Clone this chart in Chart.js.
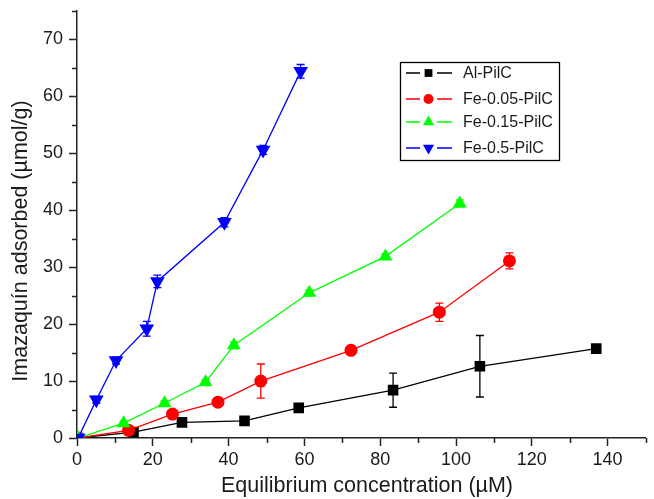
<!DOCTYPE html>
<html>
<head>
<meta charset="utf-8">
<script src="https://cdn.jsdelivr.net/npm/chart.js@4.4.0/dist/chart.umd.min.js"></script>
<style>
  html, body { margin: 0; padding: 0; background: #fff; }
</style>
</head>
<body>
<canvas id="chart" width="654" height="499"></canvas>
<script>
// series data
const seriesNames = ['Al-PilC', 'Fe-0.05-PilC', 'Fe-0.15-PilC', 'Fe-0.5-PilC'];
const seriesColors = ['#000000', '#ff0000', '#00ff00', '#0000ff'];
const seriesMarkers = ['rect', 'circle', 'triangle', 'triangle'];
const seriesRotation = [0, 0, 0, 180];
const seriesRadius = [7.5, 6.5, 8, 8.5];

const alX = [0.3, 14.9, 27.7, 44.2, 58.5, 83.4, 106.3, 137.0];
const alY = [0, 1.05, 2.75, 3.0, 5.3, 8.4, 12.6, 15.7];
const alErr = [0, 0.3, 0.3, 0.3, 0.4, 3.0, 5.4, 0.4];

const fe005X = [0.3, 13.6, 25.2, 37.2, 48.5, 72.3, 95.6, 114.1];
const fe005Y = [0, 1.35, 4.2, 6.3, 10.0, 15.4, 22.1, 31.1];
const fe005Err = [0, 0.3, 0.4, 0.4, 3.0, 0.7, 1.6, 1.4];

const fe015X = [0.3, 12.3, 23.1, 33.9, 41.4, 61.3, 81.4, 101.0];
const fe015Y = [0, 2.6, 6.1, 9.8, 16.3, 25.5, 31.9, 41.2];
const fe015Err = [0, 0.4, 0.4, 0.5, 0.6, 0.5, 0.5, 0.6];

const fe05X = [0.3, 5.1, 10.3, 18.4, 21.2, 38.9, 49.1, 59.0];
const fe05Y = [0, 6.7, 13.6, 19.2, 27.5, 37.9, 50.6, 64.4];
const fe05Err = [0, 0.6, 0.6, 1.3, 1.1, 0.8, 0.8, 1.2];

const xTicks = [0, 20, 40, 60, 80, 100, 120, 140];
const xMinorTicks = [10, 30, 50, 70, 90, 110, 130, 150];
const yTicks = [0, 10, 20, 30, 40, 50, 60, 70];
const yMinorTicks = [5, 15, 25, 35, 45, 55, 65, 75];

const xTitle = 'Equilibrium concentration (µM)';
const yTitle = 'Imazaquín adsorbed (µmol/g)';

const FONT = "'Liberation Sans', Arial, sans-serif";
const AXIS_COLOR = '#222222';
const TEXT_COLOR = '#1a1a1a';

function points(xs, ys) {
    return xs.map((x, i) => ({ x: x, y: ys[i] }));
}

const allX = [alX, fe005X, fe015X, fe05X];
const allY = [alY, fe005Y, fe015Y, fe05Y];
const allErr = [alErr, fe005Err, fe015Err, fe05Err];

const datasets = seriesNames.map((name, i) => ({
    label: name,
    data: points(allX[i], allY[i]),
    errors: allErr[i],
    order: seriesNames.length - i, // blue ends up on top
    borderColor: seriesColors[i],
    backgroundColor: seriesColors[i],
    borderWidth: 1.3,
    pointStyle: seriesMarkers[i],
    pointRotation: seriesRotation[i],
    pointRadius: seriesRadius[i],
    pointBorderWidth: 0,
    pointHoverRadius: seriesRadius[i],
    tension: 0,
    fill: false
}));

// error bars drawn under the markers
const errorBars = {
    id: 'errorBars',
    beforeDatasetsDraw(chart) {
        const ctx = chart.ctx;
        const yScale = chart.scales.y;
        ctx.save();
        chart.data.datasets.forEach((ds, i) => {
            const meta = chart.getDatasetMeta(i);
            ctx.strokeStyle = ds.borderColor;
            ctx.lineWidth = 1.3;
            meta.data.forEach((pt, j) => {
                const err = ds.errors[j];
                if (!err) return;
                const v = ds.data[j].y;
                const top = yScale.getPixelForValue(v + err);
                const bot = yScale.getPixelForValue(v - err);
                ctx.beginPath();
                ctx.moveTo(pt.x, top);
                ctx.lineTo(pt.x, bot);
                ctx.moveTo(pt.x - 4, top);
                ctx.lineTo(pt.x + 4, top);
                ctx.moveTo(pt.x - 4, bot);
                ctx.lineTo(pt.x + 4, bot);
                ctx.stroke();
            });
        });
        ctx.restore();
    }
};

// short minor ticks on both axes, plus the axis titles
const axisExtras = {
    id: 'axisExtras',
    afterDraw(chart) {
        const ctx = chart.ctx;
        const xs = chart.scales.x, ys = chart.scales.y;
        const area = chart.chartArea;
        ctx.save();
        ctx.strokeStyle = AXIS_COLOR;
        ctx.lineWidth = 1.5;
        ctx.beginPath();
        xMinorTicks.forEach(v => {
            const px = Math.round(xs.getPixelForValue(v)) + 0.5;
            ctx.moveTo(px, area.bottom);
            ctx.lineTo(px, area.bottom + 5);
        });
        yMinorTicks.forEach(v => {
            const py = Math.round(ys.getPixelForValue(v)) + 0.5;
            ctx.moveTo(area.left, py);
            ctx.lineTo(area.left - 5, py);
        });
        ctx.stroke();

        ctx.fillStyle = TEXT_COLOR;
        ctx.font = '21.5px ' + FONT;
        ctx.textAlign = 'center';
        ctx.textBaseline = 'middle';
        ctx.fillText(xTitle, 367, 486);

        ctx.translate(21, 241);
        ctx.rotate(-Math.PI / 2);
        ctx.fillText(yTitle, 0, 0);
        ctx.restore();
    }
};

// boxed legend with line-marker-line samples
const boxLegend = {
    id: 'boxLegend',
    afterDraw(chart) {
        const ctx = chart.ctx;
        const box = { x: 400.5, y: 62.5, w: 159, h: 98 };
        const rowY = [73, 99, 122, 148];
        const legendRadius = [5.5, 5, 6.5, 6.5];
        ctx.save();
        ctx.fillStyle = '#ffffff';
        ctx.fillRect(box.x, box.y, box.w, box.h);
        ctx.strokeStyle = '#000000';
        ctx.lineWidth = 1.3;
        ctx.strokeRect(box.x, box.y, box.w, box.h);
        ctx.font = '16px ' + FONT;
        ctx.textBaseline = 'middle';
        seriesNames.forEach((name, i) => {
            const y = rowY[i];
            ctx.strokeStyle = seriesColors[i];
            ctx.fillStyle = seriesColors[i];
            ctx.lineWidth = 1.3;
            ctx.beginPath();
            ctx.moveTo(406, y);
            ctx.lineTo(420, y);
            ctx.moveTo(437, y);
            ctx.lineTo(452, y);
            ctx.stroke();
            Chart.helpers.drawPoint(ctx, {
                pointStyle: seriesMarkers[i],
                rotation: seriesRotation[i],
                radius: legendRadius[i],
                borderWidth: 0
            }, 428.5, y);
            ctx.fillStyle = TEXT_COLOR;
            ctx.fillText(name, 463, y + 1);
        });
        ctx.restore();
    }
};

const ctx = document.getElementById('chart').getContext('2d');
new Chart(ctx, {
    type: 'line',
    data: { datasets: datasets },
    options: {
        responsive: false,
        animation: false,
        layout: { padding: { top: 11, right: 1, left: 0, bottom: 0 } },
        plugins: {
            legend: { display: false },
            tooltip: { enabled: false }
        },
        scales: {
            x: {
                type: 'linear',
                min: 0,
                max: 150,
                afterFit: scale => {
                    scale.height = 61;
                    scale.paddingLeft = 0;
                    scale.paddingRight = 0;
                },
                afterBuildTicks: scale => { scale.ticks = xTicks.map(v => ({ value: v })); },
                border: { display: true, color: AXIS_COLOR, width: 1.5 },
                grid: { drawOnChartArea: false, drawTicks: true, tickLength: 8, tickColor: AXIS_COLOR, tickWidth: 1.5 },
                ticks: { color: TEXT_COLOR, font: { family: FONT, size: 18 }, padding: 3, maxRotation: 0 },
                title: { display: false }
            },
            y: {
                type: 'linear',
                min: 0,
                max: 75,
                afterFit: scale => {
                    scale.width = 77;
                    scale.paddingTop = 0;
                    scale.paddingBottom = 0;
                },
                afterBuildTicks: scale => { scale.ticks = yTicks.map(v => ({ value: v })); },
                border: { display: true, color: AXIS_COLOR, width: 1.5 },
                grid: { drawOnChartArea: false, drawTicks: true, tickLength: 8, tickColor: AXIS_COLOR, tickWidth: 1.5 },
                ticks: { color: TEXT_COLOR, font: { family: FONT, size: 18 }, padding: 6 },
                title: { display: false }
            }
        }
    },
    plugins: [errorBars, axisExtras, boxLegend]
});
</script>
</body>
</html>
